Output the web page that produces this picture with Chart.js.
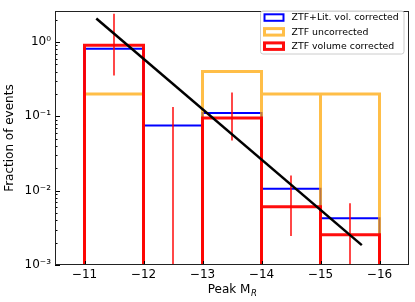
<!DOCTYPE html>
<html>
<head>
<meta charset="utf-8">
<script src="https://cdn.jsdelivr.net/npm/chart.js@4"></script>
<style>
  html, body { margin: 0; padding: 0; background: #fff; }
  #wrap { width: 415px; height: 302px; }
</style>
</head>
<body>
<div id="wrap"><canvas id="chart" width="415" height="302"></canvas></div>
<script>
// bin edges of peak magnitude (M_R)
const binEdges = [-11, -12, -13, -14, -15, -16];
const xTicks = [-11, -12, -13, -14, -15, -16];

// fraction of events per bin
const litCorrected = [0.81, 0.0755, 0.111, 0.0106, 0.00425];   // ZTF+Lit. vol. corrected
const uncorrected = [0.2, 0, 0.4, 0.2, 0.2];                    // ZTF uncorrected
const volCorrected = [0.905, 0, 0.095, 0.0061, 0.00256];       // ZTF volume corrected

// error bars on the volume corrected histogram (0 = runs off the axis)
const errX = [-11.5, -12.5, -13.5, -14.5, -15.5];
const errLo = [0.354, 0, 0.0475, 0.00246, 0];
const errHi = [2.41, 0.134, 0.21, 0.016, 0.00675];

// fitted line
const fitX = [-11.2, -15.7];
const fitY = [2.07, 0.00185];

const FLOOR = 1e-5; // below the axis, gets clipped
const FONT = "'DejaVu Sans', sans-serif";

// outline of each non-empty bin, as separate rectangles without the bottom edge
function outline(vals) {
  const pts = [];
  vals.forEach((v, i) => {
    if (!v) return;
    pts.push({ x: binEdges[i], y: FLOOR }, { x: binEdges[i], y: v },
             { x: binEdges[i + 1], y: v }, { x: binEdges[i + 1], y: FLOOR },
             { x: binEdges[i + 1], y: null });
  });
  return pts;
}

function errorBars() {
  const pts = [];
  errX.forEach((x, i) => {
    pts.push({ x: x, y: errLo[i] || FLOOR }, { x: x, y: errHi[i] }, { x: x, y: null });
  });
  return pts;
}

const SUP = { '0': '\u2070', '1': '\u00b9', '2': '\u00b2', '3': '\u00b3', '-': '\u207b' };
const sup = n => String(n).split('').map(c => SUP[c]).join('');

const lineBase = { pointRadius: 0, tension: 0, spanGaps: false, clip: 0,
                   borderJoinStyle: 'miter', fill: false };

// frame, inward ticks, legend and x title
const decorations = {
  id: 'decorations',
  afterDatasetsDraw(chart) {
    const { ctx, chartArea: a, scales } = chart;
    ctx.save();
    ctx.strokeStyle = '#000';
    ctx.lineWidth = 1;
    ctx.beginPath();
    scales.x.ticks.forEach(t => {
      const px = Math.round(scales.x.getPixelForValue(t.value)) + 0.5;
      ctx.moveTo(px, a.bottom); ctx.lineTo(px, a.bottom - 4);
    });
    scales.y.ticks.forEach(t => {
      const py = Math.round(scales.y.getPixelForValue(t.value)) + 0.5;
      const major = Math.abs(Math.log10(t.value) - Math.round(Math.log10(t.value))) < 1e-9;
      ctx.moveTo(a.left, py); ctx.lineTo(a.left + (major ? 5 : 2.5), py);
    });
    ctx.stroke();
    ctx.strokeStyle = '#222';
    ctx.strokeRect(Math.round(a.left) + 0.5, Math.round(a.top) + 0.5,
                   Math.round(a.right - a.left) - 1, Math.round(a.bottom - a.top) - 1);

    // legend, inside the top right corner
    const items = chart.data.datasets.filter(d => d.inLegend).sort((p, q) => p.legendRank - q.legendRank);
    const bx = 260.5, by = 11, bw = 143.5, bh = 43;
    ctx.fillStyle = 'rgba(255,255,255,0.85)';
    ctx.strokeStyle = '#cccccc';
    ctx.lineWidth = 1;
    ctx.beginPath();
    ctx.roundRect(bx, by, bw, bh, 2.5);
    ctx.fill(); ctx.stroke();
    ctx.font = '9.4px ' + FONT;
    ctx.textBaseline = 'middle';
    ctx.textAlign = 'left';
    items.forEach((d, i) => {
      const cy = by + 6.5 + i * 14.3;
      ctx.strokeStyle = d.borderColor;
      ctx.lineWidth = d.borderWidth;
      ctx.strokeRect(264.5, cy - 3.2, 19, 6.5);
      ctx.fillStyle = '#000';
      ctx.fillText(d.label, 291.5, cy + 0.5);
    });

    // x axis title with subscript
    const main = 'Peak M', sub = 'R';
    ctx.font = '12px ' + FONT;
    const w1 = ctx.measureText(main).width;
    ctx.font = 'italic 8.5px ' + FONT;
    const w2 = ctx.measureText(sub).width;
    const x0 = (a.left + a.right) / 2 - (w1 + w2) / 2;
    ctx.textBaseline = 'alphabetic';
    ctx.fillStyle = '#000';
    ctx.font = '12px ' + FONT;
    ctx.fillText(main, x0, 293);
    ctx.font = 'italic 8.5px ' + FONT;
    ctx.fillText(sub, x0 + w1 + 0.5, 296);
    ctx.restore();
  }
};

new Chart(document.getElementById('chart'), {
  type: 'line',
  data: {
    datasets: [
      Object.assign({ label: 'fit', data: fitX.map((x, i) => ({ x: x, y: fitY[i] })),
        borderColor: '#000', borderWidth: 2.5, order: 0, borderCapStyle: 'butt' }, lineBase),
      Object.assign({ label: 'errors', data: errorBars(),
        borderColor: 'rgba(255,0,0,0.9)', borderWidth: 1.6, order: 1 }, lineBase),
      Object.assign({ label: 'ZTF volume corrected', data: outline(volCorrected),
        borderColor: 'rgba(255,0,0,0.95)', borderWidth: 3, order: 2, inLegend: true, legendRank: 2 }, lineBase),
      Object.assign({ label: 'ZTF uncorrected', data: outline(uncorrected),
        borderColor: 'rgba(255,165,0,0.72)', borderWidth: 3, order: 3, inLegend: true, legendRank: 1 }, lineBase),
      Object.assign({ label: 'ZTF+Lit. vol. corrected', data: outline(litCorrected),
        borderColor: '#0000ff', borderWidth: 2, order: 4, inLegend: true, legendRank: 0 }, lineBase)
    ]
  },
  options: {
    responsive: false,
    animation: false,
    devicePixelRatio: 1,
    layout: { padding: { left: 0, right: 6, top: 5, bottom: 0 } },
    plugins: { legend: { display: false }, tooltip: { enabled: false } },
    scales: {
      x: {
        type: 'linear', reverse: true, min: -16.5, max: -10.5,
        afterBuildTicks: s => { s.ticks = xTicks.map(v => ({ value: v })); },
        afterFit: s => { s.height = 37; },
        grid: { drawOnChartArea: false, drawTicks: false },
        border: { display: false },
        ticks: { autoSkip: false, maxRotation: 0, padding: 3, color: '#000',
                 font: { family: FONT, size: 12 },
                 callback: v => '\u2212' + Math.abs(v) }
      },
      y: {
        type: 'logarithmic', min: 1e-3, max: 2.6,
        afterBuildTicks: s => {
          const t = [];
          for (let e = -3; e <= 0; e++) {
            for (let m = 1; m <= 9; m++) {
              const v = m * Math.pow(10, e);
              if (v <= 2.6) t.push({ value: v });
            }
          }
          s.ticks = t;
        },
        afterFit: s => { s.width = 55; },
        grid: { drawOnChartArea: false, drawTicks: false },
        border: { display: false },
        title: { display: true, text: 'Fraction of events', color: '#000',
                 font: { family: FONT, size: 12 }, padding: { top: 3, bottom: 0 } },
        ticks: { autoSkip: false, padding: 4, color: '#000',
                 font: { family: FONT, size: 12 },
                 callback: v => {
                   const e = Math.log10(v);
                   return Math.abs(e - Math.round(e)) < 1e-9 ? '10' + sup(Math.round(e)) : '';
                 } }
      }
    }
  },
  plugins: [decorations]
});
</script>
</body>
</html>
